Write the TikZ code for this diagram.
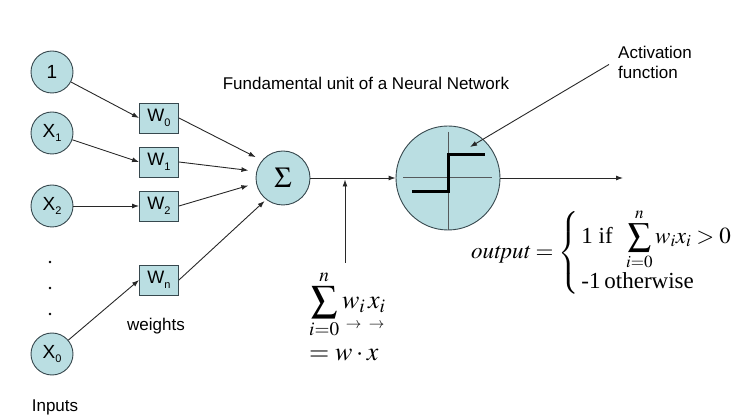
\documentclass[tikz,border=0pt]{standalone}
\usepackage{amsmath}
\usepackage{mathptmx}
\usepackage[no-math]{fontspec}
\newfontfamily\labelfont{Liberation Sans}
\newfontfamily\timesfont{Liberation Serif}
\usetikzlibrary{arrows.meta, positioning}
\definecolor{cellfill}{RGB}{186,222,226}
\definecolor{celledge}{RGB}{55,72,78}
\definecolor{wirecol}{RGB}{40,40,40}
\definecolor{axisgray}{RGB}{85,90,92}
\newcommand{\lowsub}[1]{\raisebox{-4.5pt}{\fontsize{11}{11}\selectfont #1}}

\begin{document}
\begin{tikzpicture}[x=1pt, y=-1pt,
    unit/.style={circle, draw=celledge, fill=cellfill, line width=0.9pt,
      minimum size=42pt, inner sep=0pt, font=\labelfont\fontsize{19}{22}\selectfont},
    weightbox/.style={rectangle, draw=celledge, fill=cellfill, line width=0.9pt,
      minimum width=39pt, minimum height=30pt, inner sep=0pt,
      font=\labelfont\fontsize{18}{21}\selectfont},
    wire/.style={-{Latex[length=7pt,width=5pt]}, draw=wirecol, line width=0.9pt},
    caption/.style={font=\labelfont\fontsize{17}{20}\selectfont, inner sep=0pt},
    formula/.style={font=\fontsize{26}{30}\selectfont, inner sep=0pt}]
  \useasboundingbox (0,0) rectangle (747,419);

  % inputs
  \node[unit] (in1)  at (52,72)  {1};
  \node[unit] (inx1) at (52,133) {X\lowsub{1}};
  \node[unit] (inx2) at (52,206) {X\lowsub{2}};
  \node[unit] (inx0) at (52,354) {X\lowsub{0}};
  \foreach \dy in {262,288,314}
    \fill (50,\dy) circle (1.3pt);
  \node[caption] (inlbl) at (55,407) {Inputs};

  % weights
  \node[weightbox] (w0) at (159,118) {W\lowsub{0}};
  \node[weightbox] (w1) at (159,162) {W\lowsub{1}};
  \node[weightbox] (w2) at (159,206) {W\lowsub{2}};
  \node[weightbox] (wn) at (159,280) {W\lowsub{n}};
  \node[caption] (wlbl) at (156,326) {weights};

  % summation and activation
  \node[unit, minimum size=54pt, font=\fontsize{29}{31}\selectfont] (sum) at (283,178) {$\Sigma$};
  \node[unit, minimum size=104pt] (act) at (448,178) {};
  \draw[axisgray, line width=0.9pt] (403,177) -- (492,177);
  \draw[axisgray, line width=0.9pt] (448,132) -- (448,230);
  \draw[black, line width=3pt] (412,192) -- (448,192) -- (448,155) -- (485,155);

  \node[caption] (title) at (366,83) {Fundamental unit of a Neural Network};
  \node[caption, align=left, anchor=north west] (actlbl) at (618,46) {Activation\\function};

  % connectors
  \draw[wire] (in1) -- (w0.west);
  \draw[wire] (inx1) -- (w1.west);
  \draw[wire] (inx2) -- (w2.west);
  \draw[wire] (inx0) -- (wn.west);
  \draw[wire, shorten >=7pt] (w0.east) -- (sum.140);
  \draw[wire, shorten >=8pt] (w1.east) -- (sum.166);
  \draw[wire, shorten >=8pt] (w2.east) -- (sum.191);
  \draw[wire, shorten >=2pt] (wn.east) -- (sum.232);
  \draw[wire] (sum) -- (act);

  \coordinate (tapfoot) at (345,263);
  \draw[wire, shorten >=1.5pt] (tapfoot) -- (tapfoot |- sum.east);
  \coordinate (stepmark) at (470,147);
  \draw[wire] ([xshift=-9pt,yshift=-2pt]actlbl.west) -- (stepmark);
  \coordinate (outend) at (623,178);
  \draw[wire] (act) -- (outend);

  % formulas
  \node[formula, align=left, anchor=north west] (sumeq) at (309,270)
    {$\displaystyle\sum_{i=0}^{n} \underset{\scriptscriptstyle\rightarrow}{w_i}\,\underset{\scriptscriptstyle\rightarrow}{x_i}$\\[10pt]$=w\cdot x$};
  \node[formula, font=\fontsize{23}{27}\selectfont, anchor=west] (outeq) at (471,253)
    {$\mathit{output}=\left\{\,\begin{array}{@{}l}
      \mbox{\timesfont 1 if }\;\displaystyle\sum_{i=0}^{n} w_i x_i > 0\\[10pt]
      \mbox{\timesfont -1\,otherwise}
    \end{array}\right.$};
\end{tikzpicture}
\end{document}
